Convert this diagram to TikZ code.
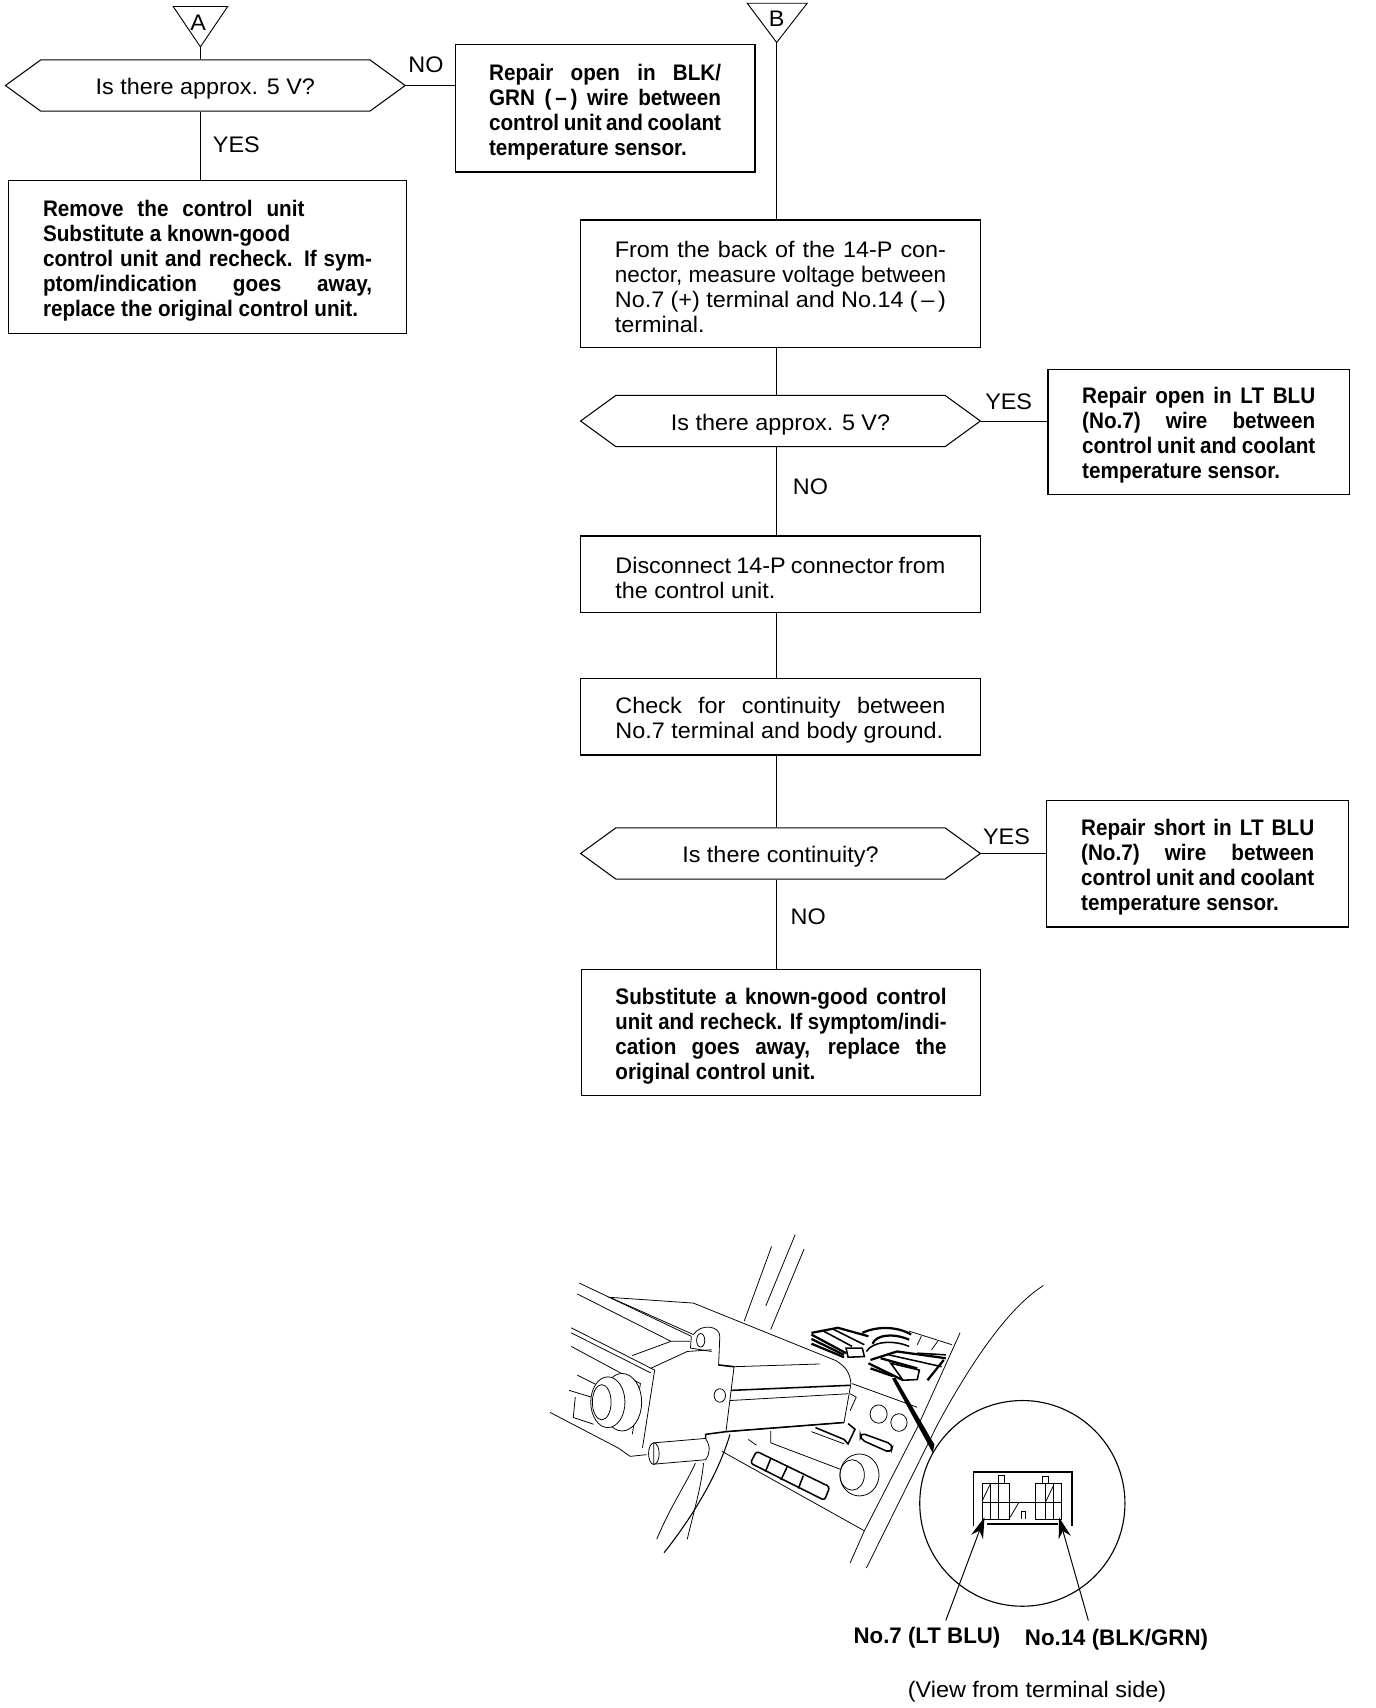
\documentclass[tikz,border=0pt]{standalone}
\usepackage{fontspec}
\usepackage{graphicx}
\setmainfont{Liberation Sans}[FakeStretch=1.04]
\newfontfamily\boldnarrow{Liberation Sans}[FakeStretch=0.92,UprightFont=* Bold]
\newfontfamily\boldwide{Liberation Sans}[FakeStretch=0.99,UprightFont=* Bold]
\usetikzlibrary{arrows.meta,shapes.symbols}
\def\ux{0.5447mm}
\newcommand{\fitline}[1]{\resizebox{\hsize}{\height}{#1}}
\tikzset{
  flowtxt/.style={font=\fontsize{32}{35.5}\selectfont},
  flowbox/.style={draw,line width=1.8pt,fill=white,inner sep=0pt,align=justify,flowtxt,
    execute at begin node={\rule{0pt}{33pt}}},
  boldbox/.style={flowbox,font=\fontsize{32}{35.5}\boldnarrow},
  hexq/.style={draw,line width=1.5pt,signal,signal to=west and east,signal pointer angle=72,
    inner sep=0pt,minimum width=367*\ux,minimum height=47*\ux,flowtxt,
    execute at begin node={\rule{0pt}{33pt}}},
  conn/.style={line width=1.3pt},
  sketch/.style={line width=1.1pt},
  sketchw/.style={line width=1.1pt,fill=white},
  heavy/.style={line width=2.2pt},
  dense/.style={line width=3.2pt},
  pinarrow/.style={line width=1.4pt,-{Stealth[length=30pt,width=18pt]}},
  callout/.style={font=\fontsize{32}{36}\boldwide,inner sep=0pt}
}
\begin{document}
\begin{tikzpicture}[x=\ux,y=-\ux]
    \useasboundingbox (0,0) rectangle (1263,1568);

    % Left branch
    \coordinate (tipA) at (184,43);
    \draw[conn] (159,6) -- (209,6) -- (tipA) -- cycle;
    \node[flowtxt] (labA) at (182,21) {A};
    \node[hexq] (hexA) at (188.5,78.5) {Is there approx. 5 V?};
    \node[boldbox,minimum width=365*\ux,minimum height=140*\ux,text width=302*\ux] (boxRemove) at (190.5,236) {\makebox[240\dimexpr\ux\relax][s]{Remove the control unit}\\
      Substitute a known-good\\
      control unit and recheck. If sym-\linebreak
      ptom/indication goes away,\linebreak
      replace the original control unit.};
    \node[boldbox,minimum width=275*\ux,minimum height=117*\ux,text width=213*\ux] (boxBlk) at (555.5,99.5) {Repair open in BLK/\linebreak
      GRN (\,–\,) wire between\linebreak
      control unit and coolant\linebreak
      temperature sensor.};
    \draw[conn] (tipA) -- (tipA |- hexA.north);
    \draw[conn] (tipA |- hexA.south) -- (tipA |- boxRemove.north);
    \draw[conn] (hexA.east) -- (boxBlk.west |- hexA.east);
    \node[flowtxt] (yesA) at (217,133) {YES};
    \node[flowtxt] (noA) at (391,59) {NO};

    % Right branch
    \coordinate (tipB) at (713,39);
    \draw[conn] (686,3) -- (741,3) -- (tipB) -- cycle;
    \node[flowtxt] (labB) at (713,17) {B};
    \node[flowbox,minimum width=367*\ux,minimum height=117*\ux,text width=304*\ux,
      execute at begin node={\rule{0pt}{27pt}}] (boxBack) at (716.5,260.5) {From the back of the 14-P con-\linebreak
      \fitline{nector, measure voltage between}\linebreak
      No.7 (+) terminal and No.14 (\,–\,)\linebreak
      terminal.};
    \node[hexq] (hexVolt) at (716.5,386.5) {Is there approx. 5 V?};
    \node[boldbox,minimum width=277*\ux,minimum height=115*\ux,text width=214*\ux] (boxOpen) at (1100.5,396.5) {Repair open in LT BLU\linebreak
      (No.7) wire between\linebreak
      control unit and coolant\linebreak
      temperature sensor.};
    \node[flowbox,minimum width=367*\ux,minimum height=70*\ux,text width=303*\ux] (boxDisc) at (716.5,527) {Disconnect 14-P connector from\linebreak
      the control unit.};
    \node[flowbox,minimum width=367*\ux,minimum height=70*\ux,text width=303*\ux] (boxCheck) at (716.5,658) {Check for continuity between\linebreak
      No.7 terminal and body ground.};
    \node[hexq] (hexCont) at (716.5,783.5) {Is there continuity?};
    \node[boldbox,minimum width=277*\ux,minimum height=116*\ux,text width=214*\ux] (boxShort) at (1099.5,793) {Repair short in LT BLU\linebreak
      (No.7) wire between\linebreak
      control unit and coolant\linebreak
      temperature sensor.};
    \node[boldbox,minimum width=366*\ux,minimum height=116*\ux,text width=304*\ux] (boxSub) at (717,948) {Substitute a known-good control\linebreak
      \fitline{unit and recheck. If symptom/indi-}\linebreak
      cation goes away, replace the\linebreak
      original control unit.};

    \draw[conn] (tipB) -- (tipB |- boxBack.north);
    \draw[conn] (tipB |- boxBack.south) -- (tipB |- hexVolt.north);
    \draw[conn] (tipB |- hexVolt.south) -- (tipB |- boxDisc.north);
    \draw[conn] (tipB |- boxDisc.south) -- (tipB |- boxCheck.north);
    \draw[conn] (tipB |- boxCheck.south) -- (tipB |- hexCont.north);
    \draw[conn] (tipB |- hexCont.south) -- (tipB |- boxSub.north);
    \draw[conn] (hexVolt.east) -- (boxOpen.west |- hexVolt.east);
    \draw[conn] (hexCont.east) -- (boxShort.west |- hexCont.east);
    \node[flowtxt] (yesVolt) at (926,369) {YES};
    \node[flowtxt] (noVolt) at (744,447) {NO};
    \node[flowtxt] (yesCont) at (924,768) {YES};
    \node[flowtxt] (noCont) at (742,842) {NO};

    % Callouts under the sketch
    \node[callout] (lab7) at (851,1503) {No.7 (LT BLU)};
    \node[callout] (lab14) at (1025,1505) {No.14 (BLK/GRN)};
    \node[flowtxt] (labView) at (952,1553) {(View from terminal side)};

    % Dash sketch
    \begin{scope}[shift={(487,1118)},xscale=0.3738,yscale=0.3106]
      % Pillar and far lines
      \draw[sketch] (525,305) -- (592,85);
      \draw[sketch] (590,330) -- (672,92);
      \draw[sketch] (578,260) -- (650,50);
      \draw[sketch] (825,1035) -- (1000,610) .. controls (1090,410) and (1180,260) .. (1260,200);
      \draw[sketch] (785,1020) -- (820,925) -- (950,620) -- (1055,340);
      \draw[sketch] (310,950) .. controls (345,850) and (385,780) .. (405,725);
      \draw[sketch] (385,950) .. controls (405,850) and (420,790) .. (425,725);
      \draw[line width=1.5pt] (328,990) .. controls (400,880) and (460,760) .. (490,640);

      % Console panel
      \draw[sketch] (470,690) -- (820,925);
      \draw[sketch] (790,490) -- (950,560);
      \draw[sketch] (535,655) -- (555,672);
      \draw[sketch] (590,630) -- (590,665) -- (765,745);
      \draw[sketch] (855,580) circle [x radius=21,y radius=27];
      \draw[sketch] (905,605) circle [x radius=20,y radius=26];
      \draw[heavy,rounded corners=7pt] (810,635) -- (890,670) -- (885,695) -- (810,655) -- cycle;
      \draw[heavy] (700,620) -- (770,655) -- (780,668) -- (797,625) -- (780,608);
      \draw[sketch] (690,632) -- (770,668);
      \draw[sketch] (785,520) -- (800,530) -- (785,570);
      \draw[heavy,rounded corners=4pt] (555,690) -- (735,795) -- (722,835) -- (540,725) -- cycle;
      \draw[heavy] (590,712) -- (577,750);
      \draw[heavy] (630,737) -- (615,775);
      \draw[heavy] (670,762) -- (658,800);
      \draw[sketchw] (808,760) circle [x radius=48,y radius=62];
      \draw[sketch] (790,760) circle [x radius=30,y radius=45];

      % Column and lever
      \draw[sketch] (120,193) -- (395,350);
      \draw[sketch] (115,225) -- (345,365);
      \draw[sketch] (100,325) -- (305,450);
      \draw[sketch] (100,340) -- (295,458);
      \draw[sketch] (100,380) -- (270,490) -- (250,640);
      \draw[sketch] (48,575) -- (215,680) -- (245,705) -- (285,700);
      \draw[sketch] (305,450) -- (275,680);
      \draw[sketch] (115,465) -- (165,495);
      \draw[sketch] (95,510) -- (150,530);
      \draw[sketch] (110,530) -- (105,590) -- (155,610);
      \draw[sketchw] (225,545) circle [x radius=48,y radius=85];
      \draw[sketchw] (190,545) circle [x radius=42,y radius=75];
      \draw[sketch] (175,545) circle [x radius=23,y radius=52];
      \draw[sketch,fill=white] (195,235) -- (400,252) -- (750,422) .. controls (775,440) and (785,460) .. (787,490)
        -- (770,605) -- (480,632) -- (500,440) -- (462,435) -- (465,350)
        .. controls (465,320) and (420,310) .. (400,345) -- cycle;
      \draw[heavy] (480,632) -- (770,605);
      \draw[heavy] (462,435) -- (500,440);
      \draw[sketch] (500,440) -- (710,432);
      \draw[heavy] (492,510) -- (785,495);
      \draw[sketch] (490,540) -- (780,520);
      \draw[sketch] (465,525) circle [x radius=14,y radius=20];
      \draw[sketch] (418,362) circle [x radius=10,y radius=20];
      \draw[sketch] (250,407) -- (345,365) -- (392,365);
      \draw[sketch] (295,445) -- (385,395) -- (445,390);
      \draw[sketch] (395,350) -- (393,385) -- (445,395);
      \draw[sketchw] (303,665) -- (430,652) .. controls (442,675) and (442,695) .. (430,715) -- (303,728) -- cycle;
      \draw[sketch] (303,697) circle [x radius=13,y radius=32];
      \draw[heavy] (430,652) -- (430,640) -- (480,632);

      % Connector bodies
      \draw[dense] (690,340) -- (755,325) -- (830,350);
      \draw[dense] (690,345) -- (775,400);
      \draw[dense] (690,358) -- (770,405);
      \draw[dense] (690,372) -- (770,412);
      \draw[heavy] (720,335) -- (790,380);
      \draw[heavy] (745,330) -- (820,375);
      \draw[heavy,fill=white] (775,385) -- (815,385) -- (820,410) -- (780,412) -- cycle;
      \draw[dense] (815,340) .. controls (850,320) and (900,320) .. (935,345);
      \draw[dense] (840,372) .. controls (850,345) and (890,340) .. (930,360);
      \draw[heavy] (825,395) .. controls (840,365) and (890,360) .. (930,380);
      \draw[sketch] (930,335) -- (1035,375);
      \draw[sketch] (960,350) -- (950,375);
      \draw[sketch] (1000,365) -- (985,390);
      \draw[dense] (835,420) -- (900,395) -- (1020,415);
      \draw[dense] (830,430) -- (915,480);
      \draw[dense] (835,445) -- (890,468);
      \draw[dense] (860,415) -- (950,445);
      \draw[heavy] (880,405) -- (1010,440);
      \draw[heavy,fill=white] (885,430) -- (955,450) -- (950,478) -- (915,480) -- cycle;
      \draw[dense] (1015,420) -- (975,480);
      \draw[heavy] (950,400) -- (1020,405);

      % Lead to the enlarged view
      \fill (888,475) -- (896,472) -- (992,670) -- (988,695) -- cycle;

      % Enlarged view
      \draw[line width=1.6pt] (1208,844) circle [x radius=252,y radius=304];
      \draw[heavy] (1088,910) -- (1088,752) -- (1330,752) -- (1330,910);
      \draw[heavy] (1120,905) -- (1295,905);
      \draw[sketch] (1110,785) rectangle (1175,890);
      \draw[sketch] (1240,785) rectangle (1305,890);
      \draw[sketch] (1110,840) -- (1305,840);
      \draw[sketch] (1130,785) -- (1130,890);
      \draw[sketch] (1150,785) -- (1150,890);
      \draw[sketch] (1265,785) -- (1265,890);
      \draw[sketch] (1285,785) -- (1285,890);
      \draw[sketch] (1150,760) rectangle (1165,785);
      \draw[sketch] (1257,765) rectangle (1272,785);
      \draw[sketch] (1110,835) -- (1130,785);
      \draw[sketch] (1265,840) -- (1285,790);
      \draw[sketch] (1178,885) -- (1200,840);
      \draw[sketch] (1205,890) -- (1205,868) -- (1215,868) -- (1215,890);

      \coordinate (lead7) at (1020,1190);
      \coordinate (pin7) at (1115,885);
      \coordinate (lead14) at (1370,1190);
      \coordinate (pin14) at (1298,885);
      \draw[pinarrow] (lead7) -- (pin7);
      \draw[pinarrow] (lead14) -- (pin14);
    \end{scope}
\end{tikzpicture}
\end{document}
